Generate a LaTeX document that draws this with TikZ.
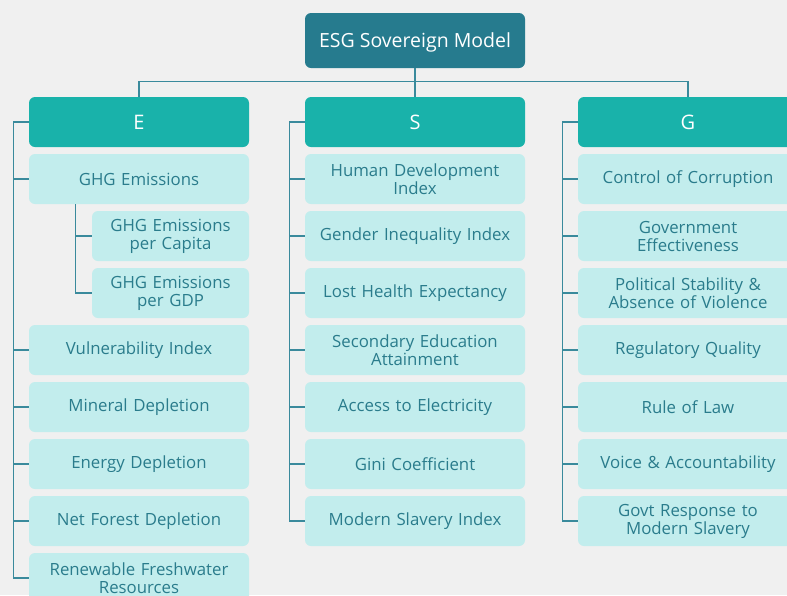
\documentclass[tikz,border=0pt]{standalone}
\usepackage{fontspec}
\setmainfont{Open Sans}
\usetikzlibrary{calc}
\definecolor{bgc}{HTML}{F0F0F0}
\definecolor{rootc}{HTML}{267B8E}
\definecolor{headc}{HTML}{19B2AA}
\definecolor{itemc}{HTML}{C2EDED}
\definecolor{txtc}{HTML}{2A7C8C}
\definecolor{linec}{HTML}{3A8A9C}
\begin{document}
\begin{tikzpicture}[x=1pt,y=-1pt,
  rootbox/.style={fill=rootc, rounded corners=6pt, minimum width=220pt, minimum height=55pt, inner sep=0pt, text depth=0pt, text=white, font=\fontsize{19.5}{22}\selectfont},
  headbox/.style={fill=headc, rounded corners=6pt, minimum width=220pt, minimum height=50pt, inner sep=0pt, text=white, font=\fontsize{20}{22}\selectfont},
  itembox/.style={fill=itemc, rounded corners=6pt, minimum width=220pt, minimum height=50pt, inner sep=0pt, text width=214pt, align=center, text=txtc, font=\fontsize{16.8}{18}\selectfont},
  subbox/.style={itembox, minimum width=157pt, text width=154pt},
  conn/.style={draw=linec, line width=1.3pt}]
\fill[bgc] (0,0) rectangle (787,595);
\useasboundingbox (0,0) rectangle (787,595);
\clip (0,0) rectangle (787,595);

\node[rootbox] (root) at (415,40.5) {ESG Sovereign Model};
\node[headbox] (E) at (139,122) {E};
\node[headbox] (S) at (415,122) {S};
\node[headbox] (G) at (688,122) {G};

% E column
\node[itembox] (e1) at (139,179) {GHG Emissions};
\node[subbox] (e1a) at (170.5,236) {GHG Emissions\\per Capita};
\node[subbox] (e1b) at (170.5,293) {GHG Emissions\\per GDP};
\node[itembox] (e2) at (139,350) {Vulnerability Index};
\node[itembox] (e3) at (139,407) {Mineral Depletion};
\node[itembox] (e4) at (139,464) {Energy Depletion};
\node[itembox] (e5) at (139,521) {Net Forest Depletion};
\node[itembox] (e6) at (139,578) {Renewable Freshwater\\Resources};

% S column
\node[itembox] (s1) at (415,179) {Human Development\\Index};
\node[itembox] (s2) at (415,236) {Gender Inequality Index};
\node[itembox] (s3) at (415,293) {Lost Health Expectancy};
\node[itembox] (s4) at (415,350) {Secondary Education\\Attainment};
\node[itembox] (s5) at (415,407) {Access to Electricity};
\node[itembox] (s6) at (415,464) {Gini Coefficient};
\node[itembox] (s7) at (415,521) {Modern Slavery Index};

% G column
\node[itembox] (g1) at (688,179) {Control of Corruption};
\node[itembox] (g2) at (688,236) {Government\\Effectiveness};
\node[itembox] (g3) at (688,293) {Political Stability \&\\Absence of Violence};
\node[itembox] (g4) at (688,350) {Regulatory Quality};
\node[itembox] (g5) at (688,407) {Rule of Law};
\node[itembox] (g6) at (688,464) {Voice \& Accountability};
\node[itembox] (g7) at (688,521) {Govt Response to\\Modern Slavery};

% top connectors
\draw[conn] (root.south) -- (S.north);
\draw[conn] (E.north) -- ++(0,-15) -| (G.north);

% E bus
\draw[conn] (E.west) -- ++(-15,0) coordinate (eb) |- (e6.west);
\foreach \n in {e1,e2,e3,e4,e5} \draw[conn] (eb |- \n.west) -- (\n.west);
% sub bus
\coordinate (sb) at ($(e1a.west)+(-16,0)$);
\draw[conn] (sb |- e1.south) |- (e1b.west);
\draw[conn] (sb) -- (e1a.west);

% S bus
\draw[conn] (S.west) -- ++(-15,0) coordinate (sbus) |- (s7.west);
\foreach \n in {s1,s2,s3,s4,s5,s6} \draw[conn] (sbus |- \n.west) -- (\n.west);

% G bus
\draw[conn] (G.west) -- ++(-15,0) coordinate (gbus) |- (g7.west);
\foreach \n in {g1,g2,g3,g4,g5,g6} \draw[conn] (gbus |- \n.west) -- (\n.west);
\end{tikzpicture}
\end{document}
